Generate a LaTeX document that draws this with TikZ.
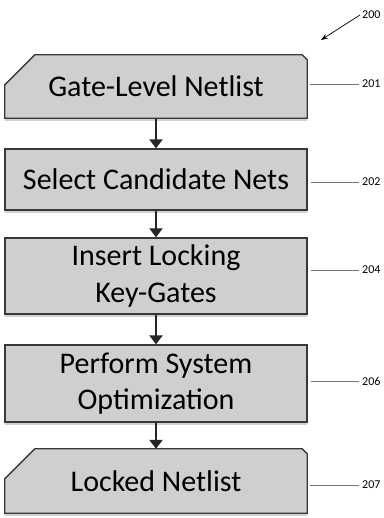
\documentclass[tikz,border=0pt]{standalone}
\usepackage{fontspec}
\setmainfont{Carlito}
\usetikzlibrary{arrows.meta,shadows,calc,backgrounds}
\begin{document}
\begin{tikzpicture}[x=1pt,y=-1pt,
  boxfill/.style={fill=black!19, draw=black!78, line width=1.3pt,
    drop shadow={shadow xshift=0pt, shadow yshift=-2.6pt, fill=black!18, opacity=1}},
  steptext/.style={minimum width=302pt, inner sep=0pt, align=center,
    font=\fontsize{30}{36.5}\selectfont},
  stepbox/.style={steptext, boxfill, rectangle},
  flowarrow/.style={draw=black!85, line width=2.6pt,
    -{Triangle[width=13pt,length=9pt]}},
  leader/.style={draw=black!55, line width=0.6pt},
  refnum/.style={font=\fontsize{12}{12}\selectfont, inner sep=0pt, anchor=west}
]
\useasboundingbox (0,0) rectangle (383,518);

% flow steps
\node[steptext, minimum height=63pt] (n201) at (156,86.5) {Gate-Level Netlist};
\node[stepbox, minimum height=61pt] (n202) at (156,179.5) {Select Candidate Nets};
\node[stepbox, minimum height=76pt] (n204) at (156,276) {Insert Locking\\Key-Gates};
\node[stepbox, minimum height=77pt] (n206) at (156,383.5) {Perform System\\Optimization};
\node[steptext, minimum height=64pt] (n207) at (156,481) {Locked Netlist};

% card outlines (cut top-left corner) behind the input and output texts
\begin{scope}[on background layer]
  \foreach \n in {n201,n207}{
    \path[boxfill]
      ($(\n.north west)+(0,30)$) -- ($(\n.north west)+(30,0)$)
      -- ($(\n.north east)+(-5,0)$) -- ($(\n.north east)+(0,5)$)
      -- (\n.south east) -- (\n.south west) -- cycle;
  }
\end{scope}

% connectors between steps
\draw[flowarrow] (n201.south) -- (n202.north);
\draw[flowarrow] (n202.south) -- (n204.north);
\draw[flowarrow] (n204.south) -- (n206.north);
\draw[flowarrow] (n206.south) -- (n207.north);

% reference numerals
\node[refnum] (l200) at (362,15) {200};
\node[refnum] (l201) at (362,84) {201};
\node[refnum] (l202) at (362,182) {202};
\node[refnum] (l204) at (362,270) {204};
\node[refnum] (l206) at (362,381) {206};
\node[refnum] (l207) at (362,485) {207};

\coordinate (p200) at (321,40);
\draw[line width=0.7pt, -{Stealth[length=7pt,width=5pt]}] (l200.west) ++(-2,0) -- (p200);

\foreach \k in {201,202,204,206,207}{
  \draw[leader] ($(n\k.east |- l\k.west)+(3,0)$) -- ($(l\k.west)+(-3,0)$);
}
\end{tikzpicture}
\end{document}
